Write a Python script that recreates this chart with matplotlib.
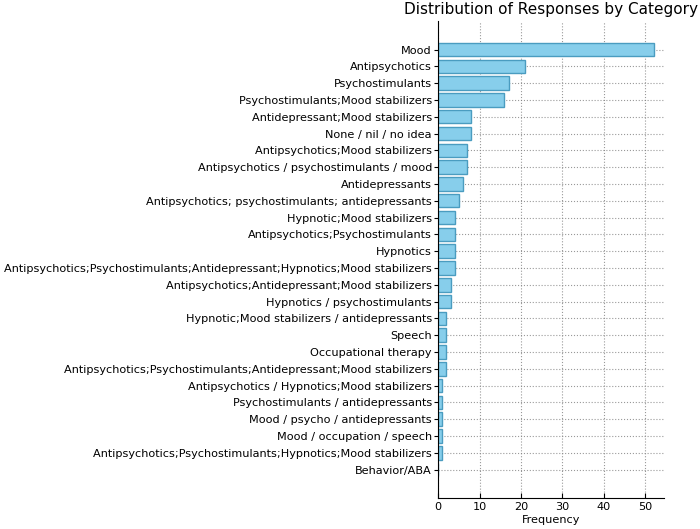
import matplotlib
matplotlib.use("Agg")
import matplotlib.pyplot as plt

categories = [
    "Mood",
    "Antipsychotics",
    "Psychostimulants",
    "Psychostimulants;Mood stabilizers",
    "Antidepressant;Mood stabilizers",
    "None / nil / no idea",
    "Antipsychotics;Mood stabilizers",
    "Antipsychotics / psychostimulants / mood",
    "Antidepressants",
    "Antipsychotics; psychostimulants; antidepressants",
    "Hypnotic;Mood stabilizers",
    "Antipsychotics;Psychostimulants",
    "Hypnotics",
    "Antipsychotics;Psychostimulants;Antidepressant;Hypnotics;Mood stabilizers",
    "Antipsychotics;Antidepressant;Mood stabilizers",
    "Hypnotics / psychostimulants",
    "Hypnotic;Mood stabilizers / antidepressants",
    "Speech",
    "Occupational therapy",
    "Antipsychotics;Psychostimulants;Antidepressant;Mood stabilizers",
    "Antipsychotics / Hypnotics;Mood stabilizers",
    "Psychostimulants / antidepressants",
    "Mood / psycho / antidepressants",
    "Mood / occupation / speech",
    "Antipsychotics;Psychostimulants;Hypnotics;Mood stabilizers",
    "Behavior/ABA",
]
frequencies = [52, 21, 17, 16, 8, 8, 7, 7, 6, 5, 4, 4, 4, 4, 3, 3, 2, 2, 2, 2, 1, 1, 1, 1, 1, 0]
x_ticks = [0, 10, 20, 30, 40, 50]

fs = 8.1
fig = plt.figure(figsize=(7, 5.29), dpi=100)
ax = fig.add_axes([0.626, 0.0586, 0.323, 0.9014])
ax.barh(categories, frequencies, color="skyblue", edgecolor="#4a9cc0", linewidth=1.0)
ax.invert_yaxis()
ax.set_xticks(x_ticks)
ax.set_xlabel("Frequency", fontsize=fs, labelpad=2)
ax.set_title("Distribution of Responses by Category", fontsize=11.0, pad=5)
ax.grid(True, linestyle=":", color="gray", alpha=0.8)
ax.set_axisbelow(True)
ax.spines["top"].set_visible(False)
ax.spines["right"].set_visible(False)
ax.tick_params(axis="x", direction="in", labelsize=fs, pad=3)
ax.tick_params(axis="y", direction="out", labelsize=fs, length=3, pad=1.5)
fig.savefig("out.png", dpi=100)
